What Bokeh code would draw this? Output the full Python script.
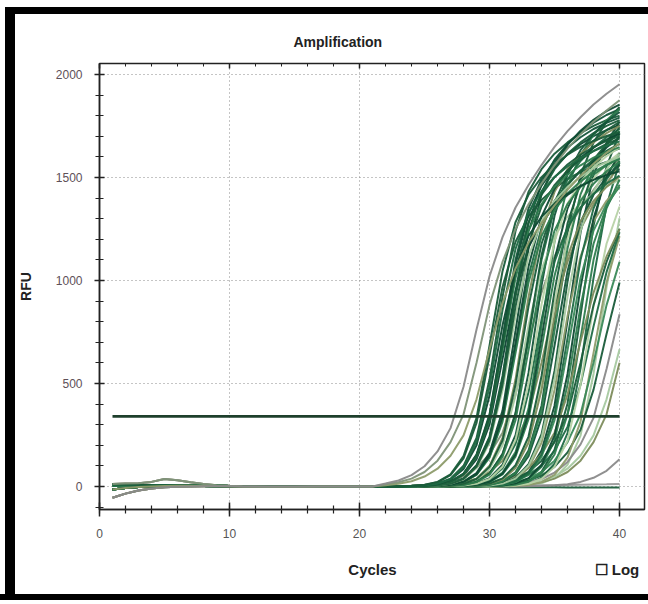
from bokeh.plotting import figure
from bokeh.models import SingleIntervalTicker, FixedTicker, LinearAxis, Range1d, GlobalInlineStyleSheet
from bokeh.embed import file_html
from bokeh.resources import INLINE

# ---------------- data ----------------
cycles = list(range(1, 41))
threshold = 340
x_limits = (0, 41.92)
y_limits = (-112, 2053)

# baseline drift for cycles 1-21
base_flat = [10, 9, 8, 6, 5, 4, 3, 2, 2, 1, 1, 0, 0, 0, 0, 0, 0, 0, 0, 0, 0]
base_dip = [-55, -35, -20, -10, -4, -1, 0, 1, 1, 1, 0, 0, 0, 0, 0, 0, 0, 0, 0, 0, 0]
base_bump = [12, 14, 16, 22, 36, 30, 20, 12, 6, 3, 1, 0, -1, -1, -1, 0, 0, 0, 0, 0, 0]
base_low = [-15, -8, -3, 0, 2, 3, 3, 2, 1, 0, -1, -1, -2, -2, -1, -1, 0, 0, 0, 0, 0]
base_mid = [2, 4, 6, 7, 7, 6, 5, 4, 3, 2, 1, 0, -1, -1, -2, -2, -1, -1, 0, 0, 0]

# RFU per well for cycles 22-40
A1 = [14, 29, 55, 98, 170, 283, 484, 762, 1020, 1210, 1354, 1463, 1560, 1648, 1725, 1792, 1854, 1906, 1952]
A2 = [10, 20, 38, 70, 125, 215, 350, 600, 880, 1090, 1250, 1370, 1470, 1560, 1640, 1710, 1770, 1825, 1875]
A3 = [6, 13, 25, 48, 86, 149, 248, 423, 666, 891, 1058, 1184, 1278, 1364, 1440, 1508, 1566, 1620, 1665]
A4 = [0, 1, 3, 8, 22, 59, 147, 333, 684, 1045, 1283, 1416, 1501, 1563, 1610, 1648, 1677, 1701, 1720]
A5 = [0, 0, 2, 5, 13, 35, 93, 219, 484, 856, 1153, 1330, 1432, 1502, 1553, 1595, 1628, 1654, 1674]
A6 = [0, 0, 2, 4, 12, 32, 85, 200, 442, 782, 1054, 1216, 1309, 1373, 1420, 1458, 1488, 1511, 1530]
A7 = [0, 0, 1, 3, 8, 22, 59, 147, 333, 684, 1045, 1283, 1416, 1501, 1563, 1610, 1648, 1677, 1701]
A8 = [0, 0, 1, 3, 7, 21, 57, 143, 322, 662, 1012, 1242, 1371, 1454, 1513, 1559, 1596, 1624, 1647]
A9 = [0, 0, 1, 3, 8, 23, 62, 155, 350, 720, 1100, 1350, 1490, 1580, 1645, 1695, 1735, 1765, 1790]
A10 = [0, 0, 0, 2, 5, 13, 36, 95, 223, 494, 874, 1178, 1359, 1463, 1534, 1587, 1629, 1663, 1689]
A11 = [0, 0, 0, 2, 5, 13, 34, 90, 212, 468, 828, 1116, 1287, 1386, 1454, 1503, 1544, 1575, 1600]
A12 = [0, 0, 0, 1, 3, 8, 22, 60, 150, 340, 698, 1067, 1310, 1445, 1533, 1596, 1644, 1683, 1712]
B1 = [0, 0, 0, 1, 3, 7, 21, 56, 140, 315, 648, 990, 1215, 1341, 1422, 1481, 1526, 1562, 1589]
B2 = [0, 0, 0, 0, 2, 5, 13, 36, 95, 223, 494, 874, 1178, 1359, 1463, 1534, 1587, 1629, 1663]
B3 = [0, 0, 0, 0, 2, 5, 14, 38, 100, 235, 520, 920, 1240, 1430, 1540, 1615, 1670, 1715, 1750]
B4 = [0, 0, 0, 0, 1, 3, 7, 21, 57, 143, 322, 662, 1012, 1242, 1371, 1454, 1513, 1559, 1596]
B5 = [0, 0, 0, 0, 1, 3, 8, 23, 63, 158, 357, 734, 1122, 1377, 1520, 1612, 1678, 1729, 1770]
B6 = [0, 0, 0, 0, 0, 2, 5, 13, 36, 96, 226, 499, 883, 1190, 1373, 1478, 1550, 1603, 1646]
B7 = [0, 0, 0, 0, 0, 2, 4, 12, 33, 88, 207, 458, 810, 1091, 1258, 1355, 1421, 1470, 1509]
B8 = [0, 0, 0, 0, 0, 1, 3, 8, 23, 62, 155, 350, 720, 1100, 1350, 1490, 1580, 1645, 1695]
B9 = [0, 0, 0, 0, 0, 1, 3, 7, 21, 58, 144, 326, 670, 1023, 1256, 1386, 1469, 1530, 1576]
B10 = [0, 0, 0, 0, 0, 0, 2, 5, 14, 39, 103, 242, 536, 948, 1277, 1473, 1586, 1663, 1720]
B11 = [0, 0, 0, 0, 0, 0, 2, 5, 13, 34, 90, 212, 468, 828, 1116, 1287, 1386, 1454, 1503]
B12 = [0, 0, 0, 0, 0, 0, 1, 3, 8, 24, 65, 163, 368, 756, 1155, 1418, 1565, 1659, 1727]
C1 = [0, 0, 0, 0, 0, 0, 1, 3, 8, 22, 59, 147, 333, 684, 1045, 1283, 1416, 1501, 1563]
C2 = [0, 0, 0, 0, 0, 0, 0, 2, 5, 14, 38, 100, 235, 520, 920, 1240, 1430, 1540, 1615]
C3 = [0, 0, 0, 0, 0, 0, 0, 2, 5, 15, 41, 108, 254, 562, 994, 1339, 1544, 1663, 1744]
C4 = [0, 0, 0, 0, 0, 0, 0, 1, 3, 8, 23, 62, 155, 350, 720, 1100, 1350, 1490, 1580]
C5 = [0, 0, 0, 0, 0, 0, 0, 1, 3, 7, 21, 57, 143, 322, 662, 1012, 1242, 1371, 1454]
C6 = [0, 0, 0, 0, 0, 0, 0, 0, 2, 5, 15, 40, 105, 247, 546, 966, 1302, 1502, 1617]
C7 = [0, 0, 0, 0, 0, 1, 3, 7, 13, 27, 50, 90, 157, 261, 447, 703, 941, 1116, 1249]
C8 = [0, 0, 0, 0, 0, 0, 0, 0, 1, 3, 8, 23, 62, 155, 350, 720, 1100, 1350, 1490]
C9 = [0, 0, 0, 0, 0, 1, 2, 5, 10, 20, 38, 70, 125, 215, 350, 600, 880, 1090, 1250]
C10 = [0, 0, 0, 0, 0, 0, 0, 0, 0, 2, 5, 13, 36, 95, 223, 494, 874, 1178, 1359]
C11 = [0, 0, 0, 0, 0, 0, 1, 3, 7, 15, 29, 56, 100, 173, 289, 494, 777, 1040, 1234]
C12 = [0, 0, 0, 0, 0, 0, 1, 2, 5, 10, 20, 38, 70, 125, 215, 350, 600, 880, 1090]
D1 = [0, 0, 0, 0, 0, 0, 0, 0, 0, 1, 3, 7, 21, 56, 140, 315, 648, 990, 1215]
D2 = [0, 0, 0, 0, 0, 0, 0, 1, 3, 7, 14, 28, 53, 95, 165, 275, 470, 740, 990]
D3 = [0, 0, 0, 0, 0, 0, 0, 1, 2, 5, 10, 19, 36, 67, 119, 204, 333, 570, 836]
D4 = [0, 0, 0, 0, 0, 0, 0, 0, 1, 3, 6, 13, 25, 48, 86, 149, 248, 423, 666]
D5 = [0, 0, 0, 0, 0, 0, 0, 0, 1, 2, 5, 10, 20, 38, 70, 125, 215, 350, 600]
D6 = [0, 0, 0, 0, 0, 0, 0, 0, 0, 0, 0, 1, 2, 6, 11, 22, 42, 76, 132]
D7 = [0, 0, 1, 1, 2, 2, 3, 3, 4, 4, 5, 5, 6, 6, 7, 8, 9, 10, 12]
D8 = [0, -1, -1, -2, -2, -2, -3, -3, -3, -3, -4, -4, -4, -4, -5, -5, -5, -5, -5]
E1 = [0, 0, 0, 2, 5, 14, 38, 100, 235, 520, 920, 1240, 1430, 1540, 1615, 1670, 1715, 1750, 1778]
E2 = [0, 0, 0, 1, 3, 8, 24, 65, 163, 368, 756, 1155, 1418, 1565, 1659, 1727, 1780, 1822, 1853]
E3 = [0, 0, 0, 0, 2, 4, 12, 32, 85, 200, 442, 782, 1054, 1216, 1309, 1373, 1420, 1458, 1488]
E4 = [0, 0, 0, 0, 1, 3, 8, 23, 62, 155, 350, 720, 1100, 1350, 1490, 1580, 1645, 1695, 1735]
E5 = [0, 0, 0, 0, 0, 2, 5, 15, 40, 106, 249, 551, 975, 1314, 1516, 1632, 1712, 1770, 1818]
E6 = [0, 0, 0, 0, 0, 1, 3, 9, 25, 67, 167, 378, 778, 1188, 1458, 1609, 1706, 1777, 1831]
E7 = [0, 0, 0, 0, 0, 0, 2, 5, 14, 37, 97, 228, 504, 892, 1203, 1387, 1494, 1567, 1620]
E8 = [0, 0, 0, 0, 0, 0, 1, 3, 9, 26, 69, 174, 392, 806, 1232, 1512, 1669, 1770, 1842]
E9 = [0, 0, 0, 0, 0, 0, 0, 2, 5, 13, 34, 90, 212, 468, 828, 1116, 1287, 1386, 1454]
E10 = [0, 0, 0, 0, 0, 0, 0, 1, 3, 9, 26, 69, 174, 392, 806, 1232, 1512, 1669, 1770]
E11 = [0, 0, 0, 0, 0, 0, 0, 0, 2, 5, 13, 36, 95, 223, 494, 874, 1178, 1359, 1463]
E12 = [0, 0, 0, 0, 0, 0, 0, 0, 1, 3, 9, 26, 71, 178, 403, 828, 1265, 1553, 1714]
E13 = [0, 0, 0, 0, 0, 0, 0, 0, 0, 2, 6, 15, 42, 110, 259, 572, 1012, 1364, 1573]
E14 = [0, 0, 0, 0, 0, 0, 0, 0, 0, 0, 2, 5, 15, 40, 105, 247, 546, 966, 1302]
E15 = [0, 0, 1, 2, 5, 10, 20, 38, 70, 125, 215, 350, 600, 880, 1090, 1250, 1370, 1470, 1560]
E16 = [0, 1, 3, 7, 13, 27, 50, 90, 157, 261, 447, 703, 941, 1116, 1249, 1349, 1439, 1520, 1591]
F1 = [0, 0, 2, 5, 14, 38, 100, 235, 520, 920, 1240, 1430, 1540, 1615, 1670, 1715, 1750, 1778, 1800]
F2 = [0, 0, 1, 3, 8, 23, 61, 152, 343, 706, 1078, 1323, 1460, 1548, 1612, 1661, 1700, 1730, 1754]
F3 = [0, 0, 0, 2, 5, 14, 39, 103, 242, 536, 948, 1277, 1473, 1586, 1663, 1720, 1766, 1803, 1831]
F4 = [0, 0, 0, 1, 3, 7, 21, 58, 144, 326, 670, 1023, 1256, 1386, 1469, 1530, 1576, 1614, 1641]
F5 = [0, 1, 3, 7, 20, 55, 136, 308, 634, 968, 1188, 1311, 1390, 1448, 1492, 1527, 1553, 1575, 1593]
F6 = [0, 0, 1, 3, 7, 20, 53, 133, 301, 619, 946, 1161, 1281, 1359, 1415, 1458, 1492, 1518, 1539]

wells = [A1, A2, A3, A4, A5, A6, A7, A8, A9, A10, A11, A12,
         B1, B2, B3, B4, B5, B6, B7, B8, B9, B10, B11, B12,
         C1, C2, C3, C4, C5, C6, C7, C8, C9, C10, C11, C12,
         D1, D2, D3, D4, D5, D6, D7, D8,
         E1, E2, E3, E4, E5, E6, E7, E8, E9, E10, E11, E12, E13, E14, E15, E16,
         F1, F2, F3, F4, F5, F6]
well_base = [base_dip, base_bump, base_low, base_flat, base_mid, base_low, base_flat, base_mid, base_low, base_flat, base_mid, base_flat,
             base_low, base_mid, base_flat, base_low, base_mid, base_flat, base_low, base_mid, base_flat, base_low, base_mid, base_flat,
             base_mid, base_low, base_flat, base_mid, base_low, base_flat, base_dip, base_mid, base_low, base_flat, base_mid, base_low,
             base_flat, base_mid, base_dip, base_low, base_flat, base_bump, base_dip, base_mid,
             base_flat, base_mid, base_low, base_flat, base_mid, base_low, base_flat, base_mid,
             base_low, base_flat, base_mid, base_low, base_flat, base_mid, base_bump, base_dip,
             base_flat, base_mid, base_low, base_mid, base_flat, base_low]

# ---------------- styles ----------------
DK, DK2, DK3, MD, MD2, LT, LT2, OL, OL2, GR = ("#1a5c3a", "#0f4a33", "#14553a", "#2e7d4e", "#3b8a5a",
                                               "#a6c9a0", "#b7d2a6", "#7d8c5c", "#8e9c6c", "#8a8a8a")
G2 = "#1f6a45"
well_colors = [GR, "#7f9478", OL2, DK, G2, DK2, DK, MD, DK3, DK, LT, DK2,
               MD, DK, OL, MD, DK, LT2, G2, DK2, MD, DK, OL, MD,
               DK3, LT, DK, G2, MD2, DK2, OL, MD, DK, LT2, G2, MD2,
               OL2, DK, GR, LT, OL, GR, "#9a9a9a", DK,
               DK, DK2, LT, G2, DK3, MD, LT2, DK, OL2, DK2, MD, DK, G2, LT, OL, "#7f9478",
               DK, DK2, DK3, G2, DK, "#0d4030"]

FONT = "Liberation Sans"
cycles_label_x = 21.0      # position of the "Cycles" caption
log_label_x = 39.8         # position of the "Log" checkbox caption

p = figure(width=648, height=600, x_range=Range1d(*x_limits), y_range=Range1d(*y_limits),
           output_backend="svg", toolbar_location=None,
           min_border_left=99, min_border_right=4, min_border_top=63, min_border_bottom=91)
p.background_fill_color = None
p.border_fill_color = None
p.outline_line_color = "#222222"
p.outline_line_width = 1.5
# no page scrollbars
p.stylesheets = [GlobalInlineStyleSheet(css="html, body { overflow: hidden; margin: 0; }")]
# black picture frame on the left, top and bottom (drawn behind the transparent canvas)
p.styles = {
    "background-image": ("linear-gradient(#000, #000), linear-gradient(#000, #000), "
                         "linear-gradient(#000, #000)"),
    "background-size": "10px calc(100% - 7px), 100% 7px, 100% 6px",
    "background-position": "5px 7px, 5px 7px, 0 100%",
    "background-repeat": "no-repeat",
}

p.title.text = "Amplification"
p.title.align = "left"
p.title.offset = 194
p.title.standoff = 27
p.title.text_font = FONT
p.title.text_font_style = "bold"
p.title.text_font_size = "14px"
p.title.text_color = "#222222"

xt = SingleIntervalTicker(interval=10, num_minor_ticks=5)
yt = SingleIntervalTicker(interval=500, num_minor_ticks=5)
p.xaxis.ticker = xt
p.yaxis.ticker = yt
p.xgrid.ticker = xt
p.ygrid.ticker = yt
for g in (p.xgrid, p.ygrid):
    g.grid_line_color = "#8a8a8a"
    g.grid_line_dash = "1 3"
    g.grid_line_width = 1

for ax in (p.xaxis, p.yaxis):
    ax.axis_line_color = "#222222"
    ax.axis_line_width = 1.5
    ax.major_tick_line_color = "#222222"
    ax.minor_tick_line_color = "#222222"
    ax.major_tick_line_width = 1.5
    ax.minor_tick_line_width = 1.2
    ax.major_label_text_font = FONT
    ax.major_label_text_font_size = "12px"
    ax.axis_label_text_font = FONT
    ax.axis_label_text_font_style = "bold"
    ax.axis_label_text_color = "#222222"

p.xaxis.major_tick_in = 7
p.xaxis.major_tick_out = 7
p.xaxis.minor_tick_in = 4
p.xaxis.minor_tick_out = 4
p.xaxis.major_label_standoff = 12
p.xaxis.major_label_text_color = "#555555"

p.yaxis.major_tick_in = 5
p.yaxis.major_tick_out = 5
p.yaxis.minor_tick_in = 4
p.yaxis.minor_tick_out = 4
p.yaxis.major_label_standoff = 12
p.yaxis.major_label_text_color = "#5e5058"
p.yaxis.axis_label = "RFU"
p.yaxis.axis_label_text_font_size = "14px"
p.yaxis.axis_label_standoff = 19

# caption row under the x axis: "Cycles" and the Log checkbox
caption_ax = LinearAxis(ticker=FixedTicker(ticks=[cycles_label_x, log_label_x]),
                        major_label_overrides={cycles_label_x: "Cycles", log_label_x: "\u2610 Log"},
                        axis_line_color=None, major_tick_line_color=None, minor_tick_line_color=None,
                        major_tick_in=0, major_tick_out=0, major_label_standoff=20,
                        major_label_text_font=FONT, major_label_text_font_style="bold",
                        major_label_text_font_size="15px", major_label_text_color="#222222")
p.add_layout(caption_ax, "below")

top_ax = LinearAxis(ticker=xt, major_label_text_font_size="1px", major_label_text_color=None,
                    major_label_standoff=0, major_tick_in=5, major_tick_out=0,
                    minor_tick_in=3, minor_tick_out=0, axis_line_color=None,
                    major_tick_line_color="#222222", minor_tick_line_color="#222222",
                    major_tick_line_width=1.5)
p.add_layout(top_ax, "above")

# amplification curves
for rise, base, col in reversed(list(zip(wells, well_base, well_colors))):
    rfu = base + rise
    p.line(cycles, rfu, line_color=col, line_width=2.0, line_alpha=0.95)

# threshold
p.line([cycles[0], cycles[-1]], [threshold, threshold], line_color="#1e3f2c", line_width=2.8)

open("out.html", "w").write(file_html(p, INLINE))
